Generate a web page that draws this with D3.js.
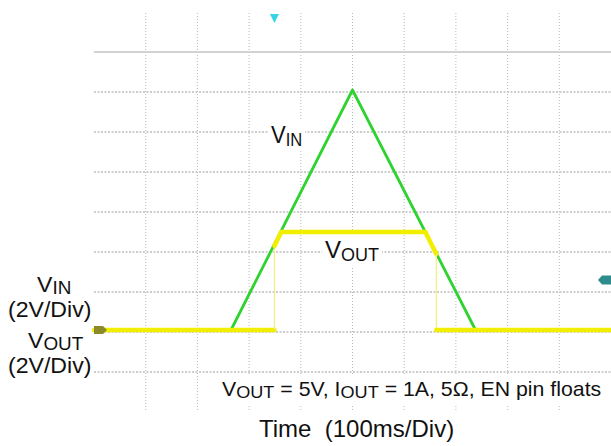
<!DOCTYPE html>
<html>
<head>
<meta charset="utf-8">
<script src="https://cdn.jsdelivr.net/npm/d3@7"></script>
<style>
  html, body { margin: 0; padding: 0; background: #fff; }
  svg { display: block; }
  text { font-family: "Liberation Sans", Arial, Helvetica, sans-serif; fill: #111; }
</style>
</head>
<body>
<svg id="chart" width="611" height="446"></svg>
<script>
// ---- data (time in ms, voltage in V) ----
const vinTime   = [0, 265, 500, 738, 1000];
const vinVolts  = [0.1, 0.1, 12.1, 0.1, 0.1];
const voutTime  = [0, 349, 349, 362, 641, 662, 662, 1000];
const voutVolts = [0.1, 0.1, 4.3, 5.0, 5.0, 3.9, 0.1, 0.1];
const timeGrid  = [100, 200, 300, 400, 500, 600, 700, 800, 900];   // 100 ms/div
const voltGrid  = [-2, 0, 2, 4, 6, 8, 10, 12, 14];                 // 2 V/div
const triggerTime  = 349;
const triggerLevel = 2.6;
const xAxisTitle = "Time  (100ms/Div)";
const noteText = [["V", ""], ["OUT", "sub"], [" = 5V, I", ""], ["OUT", "sub"], [" = 1A, 5Ω, EN pin floats", ""]];

const svg = d3.select("#chart");
const x = d3.scaleLinear().domain([0, 1000]).range([94, 611]);
const y = d3.scaleLinear().domain([-4, 16]).range([412, 12]);

// ---- grid ----
const grid = svg.append("g");
grid.selectAll("line.v").data(timeGrid).join("line")
  .attr("x1", d => x(d)).attr("x2", d => x(d))
  .attr("y1", y(15.95)).attr("y2", y(-4))
  .attr("stroke", "#b8b8b8").attr("stroke-width", 1).attr("stroke-dasharray", "1,2");
grid.selectAll("line.h").data(voltGrid).join("line")
  .attr("x1", x(0)).attr("x2", x(1000))
  .attr("y1", d => y(d)).attr("y2", d => y(d))
  .attr("stroke", d => d === 14 ? "#d2d2d2" : "#bdbdbd")
  .attr("stroke-width", d => d === 14 ? 2 : 1.6)
  .attr("stroke-dasharray", d => d === 14 ? null : "2,1.5");

// white box behind the bottom note
svg.append("rect").attr("x", 216).attr("y", y(-2.2)).attr("width", 611 - 216).attr("height", 29).attr("fill", "#fff");

// ---- traces ----
const line = d3.line().x(d => x(d[0])).y(d => y(d[1]));
const vinPts = vinTime.map((t, i) => [t, vinVolts[i]]);
svg.append("path").datum(vinPts).attr("d", line)
  .attr("fill", "none").attr("stroke", "#2fd32f").attr("stroke-width", 2.8).attr("stroke-linejoin", "round");

const voutPts = voutTime.map((t, i) => [t, voutVolts[i]]);
const segs = d3.pairs(voutPts);
svg.append("g").selectAll("path").data(segs).join("path")
  .attr("d", d => line(d))
  .attr("fill", "none")
  .attr("stroke", d => d[0][0] === d[1][0] ? "#f2f07a" : "#f2ee00")
  .attr("stroke-width", d => d[0][0] === d[1][0] ? 1.2 : 4.5)
  .attr("stroke-linecap", d => d[0][0] === d[1][0] ? "butt" : "round");

// ---- scope markers ----
const x0 = x(0), g0 = y(0.1);
svg.append("path")
  .attr("d", `M${x0},${g0 - 4} L${x0 + 9},${g0 - 4} L${x0 + 13},${g0} L${x0 + 9},${g0 + 4} L${x0},${g0 + 4} Z`)
  .attr("fill", "#8c8a28");
const tx = x(triggerTime);
svg.append("path")
  .attr("d", `M${tx - 4.5},${y(15.9)} L${tx + 4.5},${y(15.9)} L${tx},${y(15.9) + 9} Z`)
  .attr("fill", "#35d5e6");
const ty = y(triggerLevel), xr = x(1000);
svg.append("path")
  .attr("d", `M${xr},${ty - 4.5} L${xr - 9},${ty - 4.5} L${xr - 13},${ty} L${xr - 9},${ty + 4.5} L${xr},${ty + 4.5} Z`)
  .attr("fill", "#2f8c8c");

// ---- labels ----
function label(parts, px, py, size, subSize, sx, bg, subDy) {
  const g = svg.append("g").attr("transform", `translate(${px},${py}) scale(${sx},1)`);
  const t = g.append("text").attr("font-size", size);
  let lastSub = false;
  parts.forEach(([s, kind]) => {
    const ts = t.append("tspan").text(s);
    if (kind === "sub") { ts.attr("font-size", subSize).attr("dy", lastSub ? 0 : subDy); lastSub = true; }
    else { if (lastSub) ts.attr("dy", -subDy); lastSub = false; }
  });
  if (bg) {
    const b = t.node().getBBox();
    g.insert("rect", "text").attr("x", b.x - 3).attr("y", b.y - 1).attr("width", b.width + 6).attr("height", b.height + 2).attr("fill", "#fff");
  }
  return g;
}
label([["V", ""], ["IN", "sub"]], 271, 143, 24, 18, 0.92, true, 3);
label([["V", ""], ["OUT", "sub"]], 325, 258, 24, 18, 1.0, true, 3);
label([["V", ""], ["IN", "sub"]], 37, 292, 22, 18, 1.05, false, 2);
label([["(2V/Div)", ""]], 8, 317, 22, 18, 1.05, false, 0);
label([["V", ""], ["OUT", "sub"]], 28, 348, 22, 18, 1.05, false, 2);
label([["(2V/Div)", ""]], 8, 373, 22, 18, 1.05, false, 0);
label(noteText, 222, 396, 20, 17, 1.065, false, 2);
svg.append("text").attr("x", 259).attr("y", 437).attr("font-size", 24).attr("xml:space", "preserve").style("white-space", "pre").text(xAxisTitle);
</script>
</body>
</html>
